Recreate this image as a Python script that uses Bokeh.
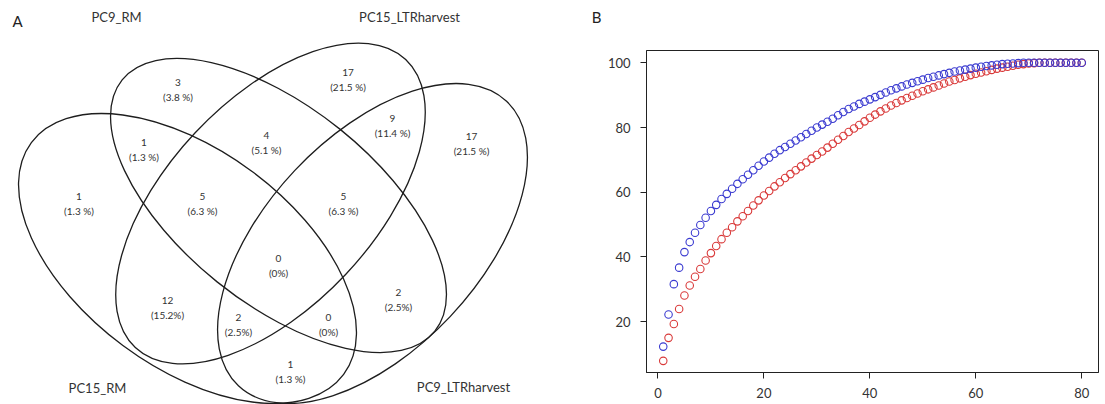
import math
from bokeh.plotting import figure
from bokeh.models import Range1d, FixedTicker, ColumnDataSource
from bokeh.layouts import row
from bokeh.core.properties import value
from bokeh.embed import file_html
from bokeh.resources import INLINE

# ---------------- data ----------------
# Panel A: 4-set Venn diagram
categories = ["PC15_RM", "PC9_RM", "PC15_LTRharvest", "PC9_LTRharvest"]
region_counts = [3, 17, 9, 17, 1, 4, 1, 5, 5, 0, 12, 2, 2, 0, 1]
region_pcts = ["(3.8 %)", "(21.5 %)", "(11.4 %)", "(21.5 %)", "(1.3 %)", "(5.1 %)",
               "(1.3 %)", "(6.3 %)", "(6.3 %)", "(0%)", "(15.2%)", "(2.5%)",
               "(2.5%)", "(0%)", "(1.3 %)"]
panel_letters = ["A", "B"]

# Panel B: two accumulation series
x_values = list(range(1, 81))
blue_values = [12.3, 22.2, 31.6, 36.7, 41.5, 44.6, 47.5, 49.9, 52.1, 54.2,
               56.1, 57.9, 59.5, 61.1, 62.6, 64.0, 65.4, 66.8, 68.2, 69.5,
               70.7, 71.9, 73.0, 74.0, 75.0, 76.0, 77.0, 78.0, 79.0, 80.0,
               80.9, 81.8, 82.7, 83.8, 84.8, 85.7, 86.5, 87.3, 88.0, 88.7,
               89.4, 90.1, 90.8, 91.5, 92.1, 92.7, 93.3, 93.8, 94.3, 94.8,
               95.3, 95.7, 96.1, 96.5, 96.9, 97.3, 97.6, 97.9, 98.2, 98.5,
               98.8, 99.0, 99.2, 99.4, 99.6, 99.7, 99.8, 99.9, 100.0, 100.0,
               100.0, 100.0, 100.0, 100.0, 100.0, 100.0, 100.0, 100.0, 100.0, 100.0]
red_values = [7.9, 15.0, 19.3, 23.9, 28.1, 31.2, 33.9, 36.3, 38.9, 41.2,
              43.4, 45.5, 47.5, 49.2, 51.0, 52.6, 54.2, 55.9, 57.5, 59.0,
              60.4, 61.8, 63.1, 64.4, 65.6, 66.8, 68.0, 69.2, 70.4, 71.5,
              72.6, 73.8, 75.0, 76.2, 77.4, 78.6, 79.7, 80.8, 81.9, 83.0,
              84.0, 85.0, 85.9, 86.8, 87.6, 88.4, 89.1, 89.8, 90.5, 91.2,
              91.8, 92.4, 93.0, 93.6, 94.2, 94.7, 95.2, 95.7, 96.2, 96.6,
              97.0, 97.4, 97.8, 98.2, 98.5, 98.8, 99.1, 99.4, 99.6, 99.8,
              99.9, 100.0, 100.0, 100.0, 100.0, 100.0, 100.0, 100.0, 100.0, 100.0]
x_ticks = [0, 20, 40, 60, 80]
y_ticks = [20, 40, 60, 80, 100]

# ---------------- layout (pixel geometry of panel A, y measured from top) ----------------
W1, H = 604, 404
# ellipses: cx, cy, semi-major, semi-minor, angle (deg, counter-clockwise)
ellipse_geom = {
    "PC15_RM":         (187.0, 258.0, 194.5, 108.4, -36.6),
    "PC9_RM":          (278.0, 205.0, 200.6, 98.0, -38.8),
    "PC15_LTRharvest": (270.0, 203.0, 197.5, 103.4, 46.8),
    "PC9_LTRharvest":  (372.0, 243.0, 195.5, 106.7, 46.7),
}
cat_label_pos = {
    "PC15_RM": (97, 387),
    "PC9_RM": (116, 16),
    "PC15_LTRharvest": (409, 16),
    "PC9_LTRharvest": (463, 386),
}
region_pos = [(177.5, 82), (347.5, 72), (392, 118), (471, 136), (143.5, 142), (266, 135),
              (78.5, 196), (202, 196), (343, 196), (278, 258), (167, 300), (398, 292),
              (238, 317), (328, 317), (290, 364)]
letter_pos = [(17, 20), (596, 16)]

FONT = "Lato"
INK = "#1e1e1e"

# ---------------- panel A ----------------
p1 = figure(width=W1, height=H, x_range=Range1d(0, W1), y_range=Range1d(0, H),
            x_axis_location=None, y_axis_location=None, toolbar_location=None,
            output_backend="svg", min_border=0, outline_line_color=None,
            frame_align=False)
p1.grid.visible = False

for cat in categories:
    cx, cy, a, b, ang = ellipse_geom[cat]
    p1.ellipse(x=[cx], y=[H - cy], width=[2 * a], height=[2 * b],
               angle=[math.radians(ang)], fill_color=None, line_color=INK, line_width=1.3)

src_counts = ColumnDataSource(dict(
    x=[p[0] for p in region_pos],
    y=[H - p[1] for p in region_pos],
    t=[str(c) for c in region_counts]))
src_pcts = ColumnDataSource(dict(
    x=[p[0] for p in region_pos],
    y=[H - p[1] - 14 for p in region_pos],
    t=region_pcts))
for s in (src_counts, src_pcts):
    p1.text(x="x", y="y", text="t", source=s, text_font=value(FONT), text_font_size="10px",
            text_align="center", text_baseline="middle", text_color="#333333")

src_cats = ColumnDataSource(dict(
    x=[cat_label_pos[c][0] for c in categories],
    y=[H - cat_label_pos[c][1] for c in categories],
    t=categories))
p1.text(x="x", y="y", text="t", source=src_cats, text_font=value(FONT), text_font_size="13px",
        text_align="center", text_baseline="middle", text_color="#333333")

src_letters = ColumnDataSource(dict(
    x=[p[0] for p in letter_pos],
    y=[H - p[1] for p in letter_pos],
    t=panel_letters))
p1.text(x="x", y="y", text="t", source=src_letters, text_font=value(FONT), text_font_size="15px",
        text_align="center", text_baseline="middle", text_color="#222222")

# ---------------- panel B ----------------
p2 = figure(width=1105 - W1, height=H, x_range=Range1d(-2.16, 83.16), y_range=Range1d(4.3, 103.8),
            toolbar_location=None, output_backend="svg",
            min_border_left=645 - W1, min_border_right=7, min_border_top=50, min_border_bottom=32,
            outline_line_color="#222222", outline_line_width=1, frame_align=False)
p2.grid.visible = False
p2.scatter(x=x_values, y=red_values, marker="circle", size=7.5, fill_color=None,
           line_color="#d93a3a", line_width=1.1)
p2.scatter(x=x_values, y=blue_values, marker="circle", size=7.5, fill_color=None,
           line_color="#3a3ad0", line_width=1.1)

for ax, ticks, standoff in ((p2.xaxis[0], x_ticks, 9), (p2.yaxis[0], y_ticks, 10)):
    ax.ticker = FixedTicker(ticks=ticks)
    ax.minor_tick_line_color = None
    ax.major_tick_out = 6
    ax.major_tick_in = 0
    ax.major_label_standoff = standoff
    ax.major_label_text_font = FONT
    ax.major_label_text_font_size = "13px"
    ax.major_label_text_color = "#333333"
    ax.axis_line_color = "#222222"
    ax.major_tick_line_color = "#222222"

layout = row(p1, p2)
open("out.html", "w").write(file_html(layout, INLINE))
